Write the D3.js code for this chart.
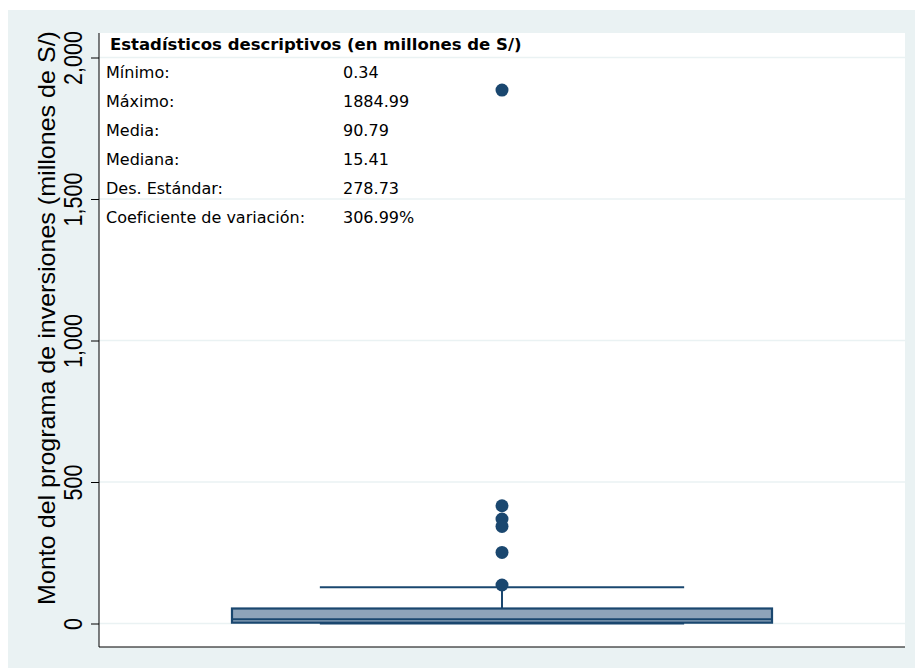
<!doctype html>
<html lang="es">
<head>
<meta charset="utf-8">
<title>Boxplot inversiones</title>
<script src="https://d3js.org/d3.v7.min.js"></script>
<style>
  body { margin: 0; background: #fff; }
  .axisLab { font-family: "Liberation Sans", Arial, sans-serif; fill: #000; }
  .tbl { font-family: "DejaVu Sans", Verdana, sans-serif; fill: #000; }
</style>
</head>
<body>
<div id="chart"></div>
<script>
// box summary (millones de S/)
const boxStats = {lo: 0.34, q1: 3, median: 15.41, q3: 53, hi: 128};
const outliers = [1884.99, 416, 369, 343, 251, 136];
const yTicks = [0, 500, 1000, 1500, 2000];

const statLabels = ['Mínimo:', 'Máximo:', 'Media:', 'Mediana:', 'Des. Estándar:', 'Coeficiente de variación:'];
const statValues = ['0.34', '1884.99', '90.79', '15.41', '278.73', '306.99%'];
const tableTitle = 'Estadísticos descriptivos (en millones de S/)';
const yTitle = 'Monto del programa de inversiones (millones de S/)';

const W = 915, H = 670;
const navy = '#1a476f';

const svg = d3.select('#chart').append('svg')
    .attr('width', W)
    .attr('height', H);

// outer background
svg.append('rect')
    .attr('x', 8).attr('y', 10)
    .attr('width', W - 8).attr('height', 658)
    .attr('fill', '#eaf2f3');

const plot = {left: 99, right: 905, top: 33, bottom: 647};

svg.append('rect')
    .attr('x', plot.left).attr('y', plot.top)
    .attr('width', plot.right - plot.left).attr('height', plot.bottom - plot.top)
    .attr('fill', '#fff');

const y = d3.scaleLinear()
    .domain([0, 2000])
    .range([623.5, 57.5]);

const x = d3.scaleLinear()
    .domain([0, 1])
    .range([plot.left, plot.right]);

// gridlines
svg.append('g')
    .selectAll('line')
    .data(yTicks)
    .enter().append('line')
    .attr('x1', plot.left).attr('x2', plot.right)
    .attr('y1', d => y(d)).attr('y2', d => y(d))
    .attr('stroke', '#eaf2f3')
    .attr('stroke-width', 1.5);

// y axis
const yAxis = d3.axisLeft(y)
    .tickValues(yTicks)
    .tickSize(8)
    .tickFormat(d3.format(','));

const gy = svg.append('g')
    .attr('transform', 'translate(' + plot.left + ',0)')
    .call(yAxis);
gy.select('.domain').attr('d', 'M0,' + plot.top + 'V' + plot.bottom).attr('stroke', '#000');
gy.selectAll('.tick line').attr('stroke', '#000');
gy.selectAll('.tick text')
    .attr('class', 'axisLab')
    .attr('font-size', 25)
    .attr('text-anchor', 'middle')
    .attr('dy', 0)
    .attr('x', 0)
    .attr('transform', 'translate(-17,0) rotate(-90) scale(0.86,1)');

// x axis line
svg.append('line')
    .attr('x1', plot.left).attr('x2', plot.right)
    .attr('y1', plot.bottom).attr('y2', plot.bottom)
    .attr('stroke', '#000')
    .attr('stroke-width', 1.2);

// y title
svg.append('text')
    .attr('class', 'axisLab')
    .attr('font-size', 23)
    .attr('text-anchor', 'middle')
    .attr('transform', 'translate(55,318) rotate(-90) scale(1.09,1)')
    .text(yTitle);

// box plot
const cx = x(0.5);
const boxHalf = x(0.335) - x(0);
const capHalf = x(0.226) - x(0);

const gb = svg.append('g');
// whiskers
gb.append('line')
    .attr('x1', cx).attr('x2', cx)
    .attr('y1', y(boxStats.q3)).attr('y2', y(boxStats.hi))
    .attr('stroke', navy).attr('stroke-width', 2);
gb.selectAll('.cap')
    .data([boxStats.hi, boxStats.lo])
    .enter().append('line')
    .attr('class', 'cap')
    .attr('x1', cx - capHalf).attr('x2', cx + capHalf)
    .attr('y1', d => y(d)).attr('y2', d => y(d))
    .attr('stroke', navy).attr('stroke-width', 2);
// box
gb.append('rect')
    .attr('x', cx - boxHalf)
    .attr('y', y(boxStats.q3))
    .attr('width', boxHalf * 2)
    .attr('height', y(boxStats.q1) - y(boxStats.q3))
    .attr('fill', '#8ea4ba')
    .attr('stroke', navy)
    .attr('stroke-width', 2.2);
gb.append('line')
    .attr('x1', cx - boxHalf).attr('x2', cx + boxHalf)
    .attr('y1', y(boxStats.median)).attr('y2', y(boxStats.median))
    .attr('stroke', navy).attr('stroke-width', 2);

// outliers
gb.selectAll('circle')
    .data(outliers)
    .enter().append('circle')
    .attr('cx', cx)
    .attr('cy', d => y(d))
    .attr('r', 6.5)
    .attr('fill', navy);

// stats table
const tbl = svg.append('g');
tbl.append('text')
    .attr('class', 'tbl')
    .attr('x', 110).attr('y', 50)
    .attr('font-size', 16.5)
    .attr('font-weight', 'bold')
    .text(tableTitle);

const rowY = d3.scalePoint()
    .domain(d3.range(statLabels.length))
    .range([78, 223]);

tbl.selectAll('.lab')
    .data(statLabels)
    .enter().append('text')
    .attr('class', 'tbl')
    .attr('x', 106)
    .attr('y', (d, i) => rowY(i))
    .attr('font-size', 16)
    .text(d => d);

tbl.selectAll('.val')
    .data(statValues)
    .enter().append('text')
    .attr('class', 'tbl')
    .attr('x', 343)
    .attr('y', (d, i) => rowY(i))
    .attr('font-size', 16)
    .text(d => d);
</script>
</body>
</html>
